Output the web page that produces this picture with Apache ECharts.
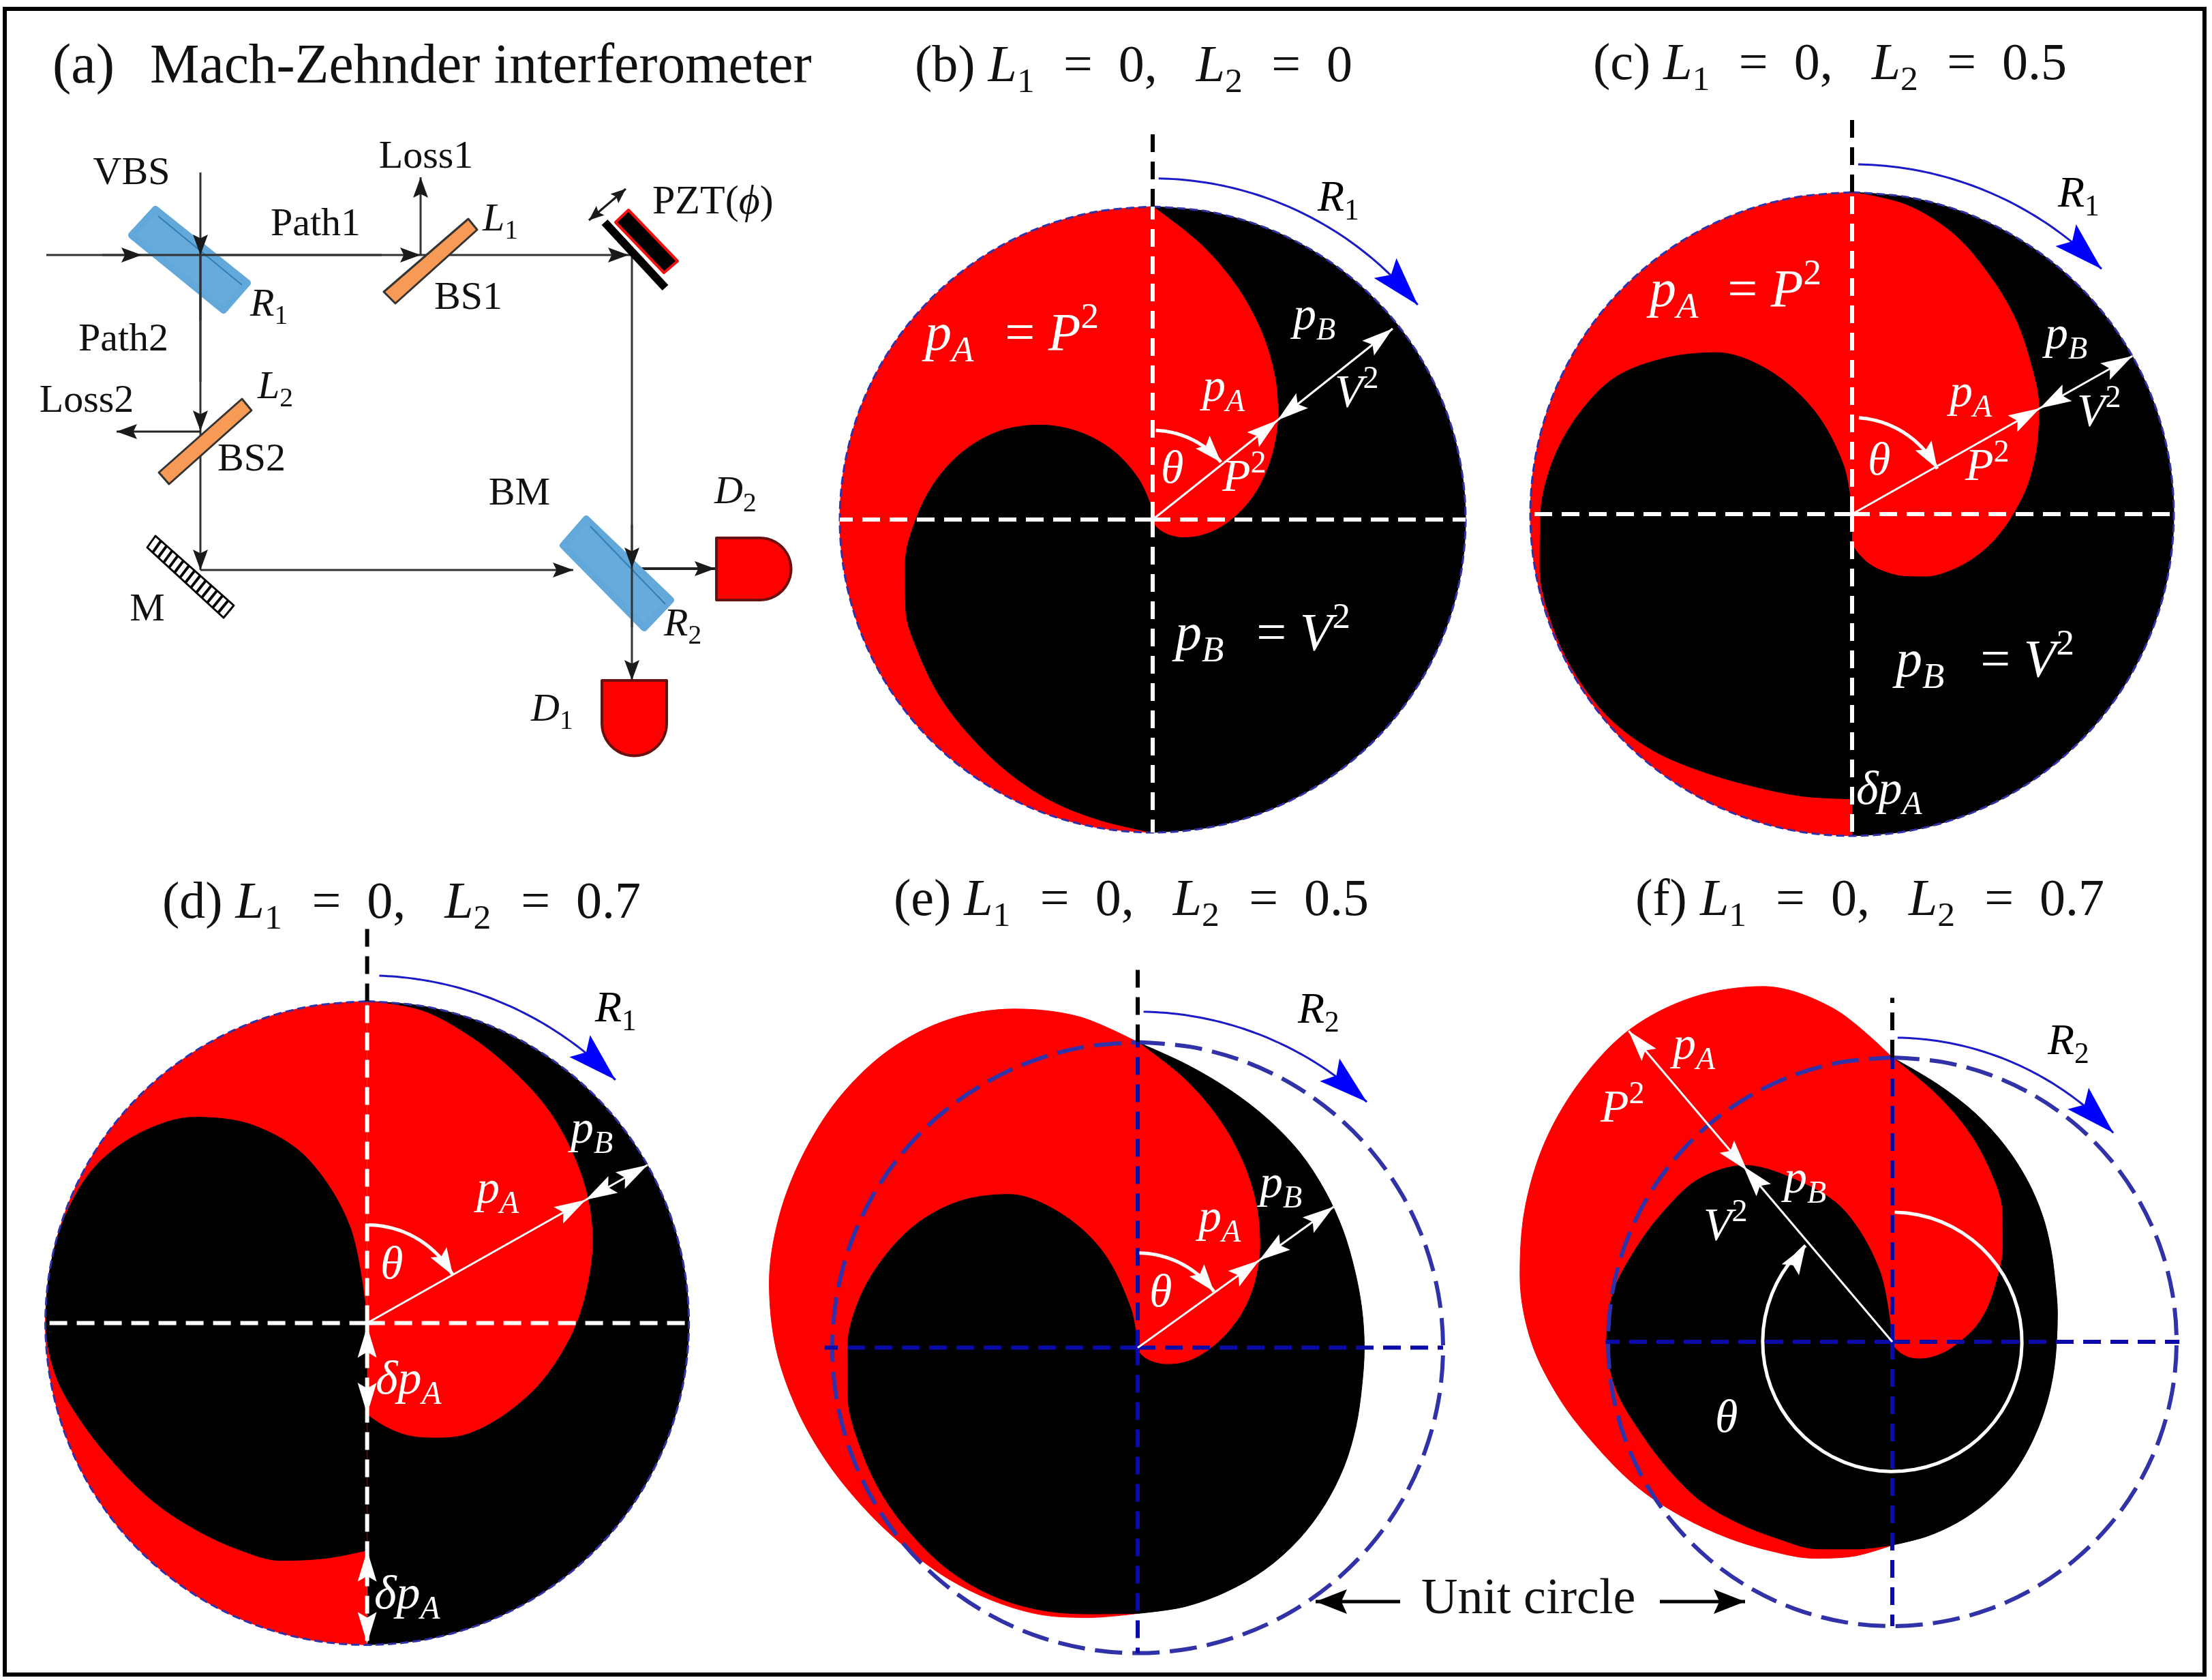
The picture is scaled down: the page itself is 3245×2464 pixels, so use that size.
<!DOCTYPE html>
<html><head><meta charset="utf-8">
<style>html,body{margin:0;padding:0;background:#fff}#c{width:3245px;height:2464px}</style>
<script src="https://cdn.jsdelivr.net/npm/echarts@6/dist/echarts.min.js"></script>
</head><body><div id="c"></div>
<script>
// ---- values: normalised radius per angle (deg, clockwise from top) ----
const anglesRight = [0,10,20,30,40,50,60,70,80,90,100,110,120,130,140,150,160,170,180];
const anglesLeft  = [180,190,200,210,220,230,240,250,260,270,280,290,300,310,320,330,340,350,360];
const anglesUnit  = [0,10,20,30,40,50,60,70,80,90,100,110,120,130,140,150,160,170,180,190,200,210,220,230,240,250,260,270,280,290,300,310,320,330,340,350,360];

const bOuterRight = [1,1,1,1,1,1,1,1,1,1,1,1,1,1,1,1,1,1,1];
const bInnerRight = [1,.892,.79,.694,.605,.522,.444,.373,.309,.25,.198,.151,.111,.077,.049,.028,.012,.003,0];
const bOuterLeft  = [1,1,1,1,1,1,1,1,1,1,1,1,1,1,1,1,1,1,1];
const bInnerLeft  = [1,.975,.955,.93,.905,.885,.862,.84,.803,.757,.705,.642,.565,.47,.365,.255,.145,.055,0];

const cOuterRight = [1,1,1,1,1,1,1,1,1,1,1,1,1,1,1,1,1,1,1];
const cInnerRight = [1,.975,.925,.855,.79,.725,.67,.61,.555,.50,.45,.40,.35,.30,.25,.205,.165,.125,.09];
const cOuterLeft  = [1,1,1,1,1,1,1,1,1,1,1,1,1,1,1,1,1,1,1];
const cInnerLeft  = [.885,.89,.90,.925,.96,.985,.993,.993,.985,.968,.945,.905,.85,.755,.655,.515,.34,.155,0];

const dOuterRight = [1,1,1,1,1,1,1,1,1,1,1,1,1,1,1,1,1,1,1];
const dInnerRight = [1,.985,.945,.905,.87,.83,.79,.745,.695,.65,.605,.565,.525,.49,.455,.41,.37,.325,.283];
const dOuterLeft  = [1,1,1,1,1,1,1,1,1,1,1,1,1,1,1,1,1,1,1];
const dInnerLeft  = [.706,.742,.785,.81,.835,.865,.895,.935,.98,.998,1,.995,.975,.92,.835,.71,.545,.30,0];

const eOuterRight = [1,.94,.895,.86,.83,.80,.775,.755,.745,.742,.745,.76,.78,.80,.82,.837,.85,.862,.87];
const eInnerRight = [1,.892,.79,.694,.605,.522,.444,.37,.30,.24,.19,.145,.105,.072,.046,.026,.011,.003,0];
const eOuterLeft  = [.87,.897,.93,.955,.98,1.005,1.04,1.085,1.135,1.185,1.225,1.25,1.265,1.275,1.27,1.24,1.18,1.10,1];
const eInnerLeft  = [.87,.885,.915,.94,.955,.96,.965,.965,.963,.95,.925,.88,.825,.75,.655,.51,.335,.13,0];

const fOuterRight = [1,.92,.855,.795,.74,.69,.645,.61,.59,.578,.577,.583,.595,.613,.635,.655,.675,.695,.715];
const fInnerRight = [1,.885,.785,.69,.60,.505,.42,.355,.295,.235,.19,.15,.115,.085,.055,.03,.015,.005,0];
const fOuterLeft  = [.715,.765,.81,.85,.90,.96,1.03,1.10,1.185,1.27,1.33,1.375,1.41,1.43,1.435,1.40,1.33,1.19,1];
const fInnerLeft  = [.715,.74,.775,.80,.835,.875,.905,.94,.985,1.005,.997,.96,.925,.89,.81,.65,.49,.25,0];

const panelOuterRight = [bOuterRight,cOuterRight,dOuterRight,eOuterRight,fOuterRight];
const panelInnerRight = [bInnerRight,cInnerRight,dInnerRight,eInnerRight,fInnerRight];
const panelOuterLeft  = [bOuterLeft,cOuterLeft,dOuterLeft,eOuterLeft,fOuterLeft];
const panelInnerLeft  = [bInnerLeft,cInnerLeft,dInnerLeft,eInnerLeft,fInnerLeft];

const panelTitles = ['(b) ','(c) ','(d) ','(e) ','(f) '];
const titleL2 = ['0','0.5','0.7','0.5','0.7'];
// ---- layout ----
const panelCenter = [[1691,762],[2717,754],[538.6,1940.5],[1669,1976.6],[2776,1968]];
const panelUnitPx = [459,472,472,448,417];
const RMAX = 1.5;
const RED='#ff0000', BLK='#000000', WHT='#ffffff', DBLUE='#0a0aa8', CIRC='#3232a8', ARROWBLUE='#0000ff', ARCBLUE='#1a1ac8';
const SERIF='"Liberation Serif"';

const chart = echarts.init(document.getElementById('c'),null,{renderer:'canvas',width:3245,height:2464,devicePixelRatio:1});

const series=[];
function area(k,ang,val,color,z){
  series.push({type:'line',coordinateSystem:'polar',polarIndex:k,smooth:0.33,showSymbol:false,symbol:'none',silent:true,clip:false,
    z:z,data:val.map((v,i)=>[v,ang[i]]),lineStyle:{color:color,width:1},areaStyle:{color:color,opacity:1},itemStyle:{color:color}});
}
function radial(k,th,r0,r1,color,w,z,dash){
  series.push({type:'line',coordinateSystem:'polar',polarIndex:k,showSymbol:false,symbol:'none',silent:true,clip:false,z:z||8,
    data:[[r0,th],[r1,th]],lineStyle:{color:color,width:w||6,type:dash||[26,14],cap:'butt'},itemStyle:{color:color}});
}
for(let k=0;k<5;k++){
  area(k,anglesRight,panelOuterRight[k],BLK,2);
  area(k,anglesLeft,panelOuterLeft[k],RED,3);
  area(k,anglesRight,panelInnerRight[k],RED,4);
  area(k,anglesLeft,panelInnerLeft[k],BLK,5);
  const blue=k>=3;
  series.push({type:'line',coordinateSystem:'polar',polarIndex:k,smooth:0.33,showSymbol:false,symbol:'none',silent:true,clip:false,z:7,
    data:anglesUnit.map(a=>[1,a]),
    lineStyle:{color:CIRC,width:blue?6:3,type:blue?[40,15]:[12,6]},itemStyle:{color:CIRC}});
}
const crossColor=[WHT,WHT,WHT,DBLUE,DBLUE];
const upperTop=[1.245,1.245,1.245,1.26,1.21];
const leftEnd=[1,1,1,1.025,1.01];
const rightEnd=[1,1,1,1,1.01];
for(let k=0;k<5;k++){
  radial(k,0,0,1,crossColor[k]);
  radial(k,180,0,1,crossColor[k]);
  radial(k,90,0,rightEnd[k],crossColor[k]);
  radial(k,270,0,leftEnd[k],crossColor[k]);
  radial(k,0,1,upperTop[k],BLK);
}

const polar=[],angleAxis=[],radiusAxis=[];
for(let k=0;k<5;k++){
  polar.push({center:panelCenter[k],radius:panelUnitPx[k]*RMAX});
  angleAxis.push({polarIndex:k,type:'value',min:0,max:360,startAngle:90,clockwise:true,show:false,
    axisLine:{show:false},axisTick:{show:false},axisLabel:{show:false},splitLine:{show:false}});
  radiusAxis.push({polarIndex:k,type:'value',min:0,max:RMAX,show:false,
    axisLine:{show:false},axisTick:{show:false},axisLabel:{show:false},splitLine:{show:false}});
}
chart.setOption({animation:false,backgroundColor:'#fff',polar,angleAxis,radiusAxis,series});

// ---- annotations, schematic ----
const g=[];
const ctx=document.createElement('canvas').getContext('2d');
const Z=100;
const P=(k,r,t)=>chart.convertToPixel({polarIndex:k},[r,t]);
function line(pts,stroke,w,dash){g.push({type:'polyline',silent:true,z:Z,shape:{points:pts},style:{stroke:stroke,lineWidth:w,fill:'none',lineDash:dash||null}});}
function poly(pts,fill,stroke,w){g.push({type:'polygon',silent:true,z:Z,shape:{points:pts},style:{fill:fill,stroke:stroke||'none',lineWidth:w||0,lineJoin:'round'}});}
function head(tip,from,len,hw,color){
  const dx=tip[0]-from[0],dy=tip[1]-from[1],d=Math.hypot(dx,dy)||1,ux=dx/d,uy=dy/d;
  const bx=tip[0]-ux*len,by=tip[1]-uy*len,nx=bx+ux*len*.18,ny=by+uy*len*.18;
  poly([tip,[bx-uy*hw,by+ux*hw],[nx,ny],[bx+uy*hw,by-ux*hw]],color);
}
function arrow(a,b,w,color,len,hw,mid){
  line([a,b],color,w);
  head(mid||b,a,len||30,hw||11,color);
}
function txt(s,x,y,size,color,style){
  const font=(style==='i'?'italic ':'')+size+'px '+SERIF;
  g.push({type:'text',silent:true,z:Z+1,style:{text:s,x:x,y:y-size*.30,fill:color,font:font,textAlign:'left',textVerticalAlign:'middle'}});
}
function runs(x,y,tokens,size,color,target){
  const meas=tokens.map(t=>{
    const kind=t[1]||'n',isS=kind==='s'||kind==='si'||kind==='sup';
    const sz=isS?size*.68:size;
    ctx.font=((kind==='i'||kind==='si')?'italic ':'')+sz+'px '+SERIF;
    return {t:t[0],kind,sz,w:ctx.measureText(t[0]).width};
  });
  const total=meas.reduce((a,m)=>a+m.w,0);
  const nGap=meas.filter((m,i)=>i>0&&m.kind==='n').length;
  const extra=(target&&nGap)?(target-total)/nGap:0;
  let cx=x;
  meas.forEach((m,i)=>{
    if(i>0&&m.kind==='n')cx+=extra;
    const dy=(m.kind==='s'||m.kind==='si')?size*.2:(m.kind==='sup'?-size*.42:0);
    txt(m.t,cx,y+dy,m.sz,color,(m.kind==='i'||m.kind==='si')?'i':'n');
    cx+=m.w;
  });
}
const pa=[['p','i'],['A','si']], pb=[['p','i'],['B','si']], P2=[['P','i'],['2','sup']], V2=[['V','i'],['2','sup']];
const EQ=[' = '];
function radialArrow(k,th,rTip,rOut){
  const c=P(k,0,th),a=P(k,rTip,th),b=P(k,rOut,th);
  line([c,a],WHT,3);head(a,c,46,14,WHT);
  line([a,b],WHT,3);head(a,b,46,14,WHT);head(b,a,46,14,WHT);
}
function arc(k,r,t0,t1,color,w,hlen,hw,headColor){
  const pts=[];const n=60;
  for(let i=0;i<=n;i++){pts.push(P(k,r,t0+(t1-t0)*i/n));}
  line(pts,color,w);
  head(pts[n],pts[n-6],hlen,hw,headColor||color);
}
const blueArc=(k,r,t0,t1)=>arc(k,r,t0,t1,ARCBLUE,3,72,22,ARROWBLUE);
// frame
g.push({type:'rect',silent:true,z:Z,shape:{x:7,y:13,width:3227,height:2443},style:{fill:'none',stroke:'#000',lineWidth:6}});

// panel titles
const titleX=[1342,2337,238,1311,2399], titleEnd=[1984,3032,940,2008,3087], titleY=[122,119,1349,1345,1345];
for(let k=0;k<5;k++){
  runs(titleX[k],titleY[k],[[panelTitles[k]],['L','i'],['1','s'],['  =  0,   '],['L','i'],['2','s'],['  =  '+titleL2[k]]],76,'#111',titleEnd[k]-titleX[k]);
}
const M=68, B=78, R=64;
// panel (b)
runs(1357,516,[...pa,EQ,...P2],B,WHT,255);
runs(1764,591,pa,M,WHT);runs(1897,486,pb,M,WHT);runs(1958,599,V2,M,WHT);runs(1793,723,P2,M,WHT);
txt('θ',1703,711,M,WHT,'i');
runs(1724,956,[...pb,EQ,...V2],B,WHT,257);
runs(1933,311,[['R','i'],['1','s']],R,BLK);
radialArrow(0,51.5,.51,.98);
arc(0,.285,2,50,WHT,5,40,14);
blueArc(0,1.09,1,51);
// panel (c)
runs(2420,452,[...pa,EQ,...P2],B,WHT,252);
runs(2860,599,pa,M,WHT);runs(3000,514,pb,M,WHT);runs(3047,627,V2,M,WHT);runs(2883,707,P2,M,WHT);
txt('θ',2740,699,M,WHT,'i');
runs(2781,995,[...pb,EQ,...V2],B,WHT,262);
runs(2723,1182,[['δ','i'],...pa],70,WHT);
runs(3019,305,[['R','i'],['1','s']],R,BLK);
radialArrow(1,60.6,.67,1.0);
arc(1,.30,4,62,WHT,5,40,14);
blueArc(1,1.087,1,45.5);
// panel (d)
runs(699,1767,pa,M,WHT);runs(837,1679,pb,M,WHT);txt('θ',558,1878,M,WHT,'i');
runs(551,2047,[['δ','i'],...pa],70,WHT);runs(549,2362,[['δ','i'],...pa],70,WHT);
runs(873,1500,[['R','i'],['1','s']],R,BLK);
radialArrow(2,60.6,.78,1.0);
arc(2,.305,1,61,WHT,5,40,14);
blueArc(2,1.08,2,45.6);
{const a=P(2,0.01,180),b=P(2,.283,180),c=P(2,.706,180),e=P(2,.995,180);
 head(a,b,46,14,WHT);head(b,a,46,14,WHT);head(c,e,46,14,WHT);head(e,c,46,14,WHT);}
// panel (e)
runs(1758,1809,pa,M,WHT);runs(1848,1759,pb,M,WHT);txt('θ',1686,1919,M,WHT,'i');
runs(1904,1502,[['R','i'],['2','s']],R,BLK);
radialArrow(3,54.3,.49,.79);
arc(3,.31,1,53.6,WHT,5,40,14);
blueArc(3,1.10,1,43);
// panel (f)
runs(2454,1556,pa,M,WHT);runs(2348,1648,P2,M,WHT);runs(2617,1752,pb,M,WHT);runs(2499,1821,V2,M,WHT);
txt('θ',2516,2103,M,WHT,'i');
runs(3004,1548,[['R','i'],['2','s']],R,BLK);
{const th=319.7,c=P(4,0,th),a=P(4,.81,th),a2=P(4,.79,th),b=P(4,1.434,th);
 line([c,a2],WHT,3);head(a,c,46,14,WHT);line([a2,b],WHT,3);head(a2,b,46,14,WHT);head(b,a,46,14,WHT);}
arc(4,.456,1,318,WHT,5,42,15);
blueArc(4,1.07,1,46.6);
// unit circle
txt('Unit circle',2085,2369,74,'#111');
arrow([2054,2349],[1930,2349],5,BLK,46,18);
arrow([2435,2349],[2560,2349],5,BLK,46,18);

// panel (a)
txt('(a)',77,124,82,'#111');
txt('Mach-Zehnder interferometer',220,124,81.5,'#111');
const AC='#1a1a1a';
line([[68,374],[926,374]],'#333',3);
line([[294,253],[294,836]],'#333',3);
line([[617,374],[617,260]],'#333',3);
line([[294,633],[171,633]],'#222',3);
line([[927,374],[927,998]],'#333',3);
line([[294,836],[841,836]],'#333',3);
line([[927,834],[1049,834]],'#222',4);
const VBS=[[228,307],[363,415],[328,455],[193,345]], BMp=[[860,761],[984,880],[945,921],[826,800]];
poly(VBS,'rgba(90,163,217,0.92)','#62a8da',10);
line([[232,317],[355,418]],'#2f7fb5',2);
poly(BMp,'rgba(90,163,217,0.92)','#62a8da',10);
line([[866,772],[976,886]],'#2f7fb5',2);
poly([[687,321],[700,337],[580,445],[563,428]],'#f79a55','#333',3);
poly([[355,585],[369,602],[248,710],[233,693]],'#f79a55','#333',3);
line([[294,360],[294,470]],'#222',3);
line([[927,770],[927,920]],'#333',3);
line([[150,374],[560,374]],'#333',3);line([[294,374],[294,560]],'#333',3);
poly([[922,308],[994,383],[974,400],[903,326]],'#000','#f01010',4);
line([[887,326],[976,422]],'#000',12);
arrow([864,323],[918,277],3,AC,22,9);head([864,323],[918,277],22,9,AC);
poly([[228,786],[343,888],[328,906],[216,803]],'#fff','#000',3);
for(let i=1;i<14;i++){const f=i/14;line([[228+115*f,786+102*f],[216+112*f,803+103*f]],'#000',4);}
function detector(pts){poly(pts,RED,'#6b1010',4);}
{const a=[[1051,789]];const cx=1115,cy=834.5,r=45.5;a.push([cx,cy-r]);
 for(let i=0;i<=24;i++){const t=-Math.PI/2+Math.PI*i/24;a.push([cx+r*Math.cos(t),cy+r*Math.sin(t)]);}
 a.push([1051,880]);detector(a);}
{const a=[[883,998],[978,998]];const cx=930.5,cy=1061,r=47.5;
 for(let i=0;i<=24;i++){const t=Math.PI*i/24;a.push([cx+r*Math.cos(t),cy+r*Math.sin(t)]);}
 detector(a);}
head([208,374],[68,374],30,11,AC);head([294,374],[294,253],30,11,AC);
head([617,374],[294,374],30,11,AC);head([922,374],[617,374],30,11,AC);
head([617,260],[617,374],30,11,AC);head([294,632],[294,374],30,11,AC);
head([171,633],[294,633],30,11,AC);head([294,836],[294,632],30,11,AC);
head([841,836],[294,836],30,11,AC);head([927,833],[927,374],30,11,AC);
head([927,998],[927,834],30,11,AC);head([1049,834],[927,834],30,11,AC);
const lab=(s,x,y)=>{ctx.font='58px '+SERIF;txt(s,x-ctx.measureText(s).width/2,y,58,'#111');};
lab('VBS',193,272);lab('Path1',463,347);lab('Path2',181,516);lab('Loss1',625,248);lab('Loss2',127,606);
lab('BS1',687,455);lab('BS2',369,692);lab('BM',762,742);lab('M',216,912);
runs(957,315,[['PZT('],['ϕ','i'],[')']],60,'#111');
runs(367,465,[['R','i'],['1','s']],58,'#111');
runs(708,340,[['L','i'],['1','s']],58,'#111');
runs(378,586,[['L','i'],['2','s']],58,'#111');
runs(1048,740,[['D','i'],['2','s']],58,'#111');
runs(779,1059,[['D','i'],['1','s']],58,'#111');
runs(974,934,[['R','i'],['2','s']],58,'#111');

chart.setOption({graphic:{elements:g}});
</script></body></html>
